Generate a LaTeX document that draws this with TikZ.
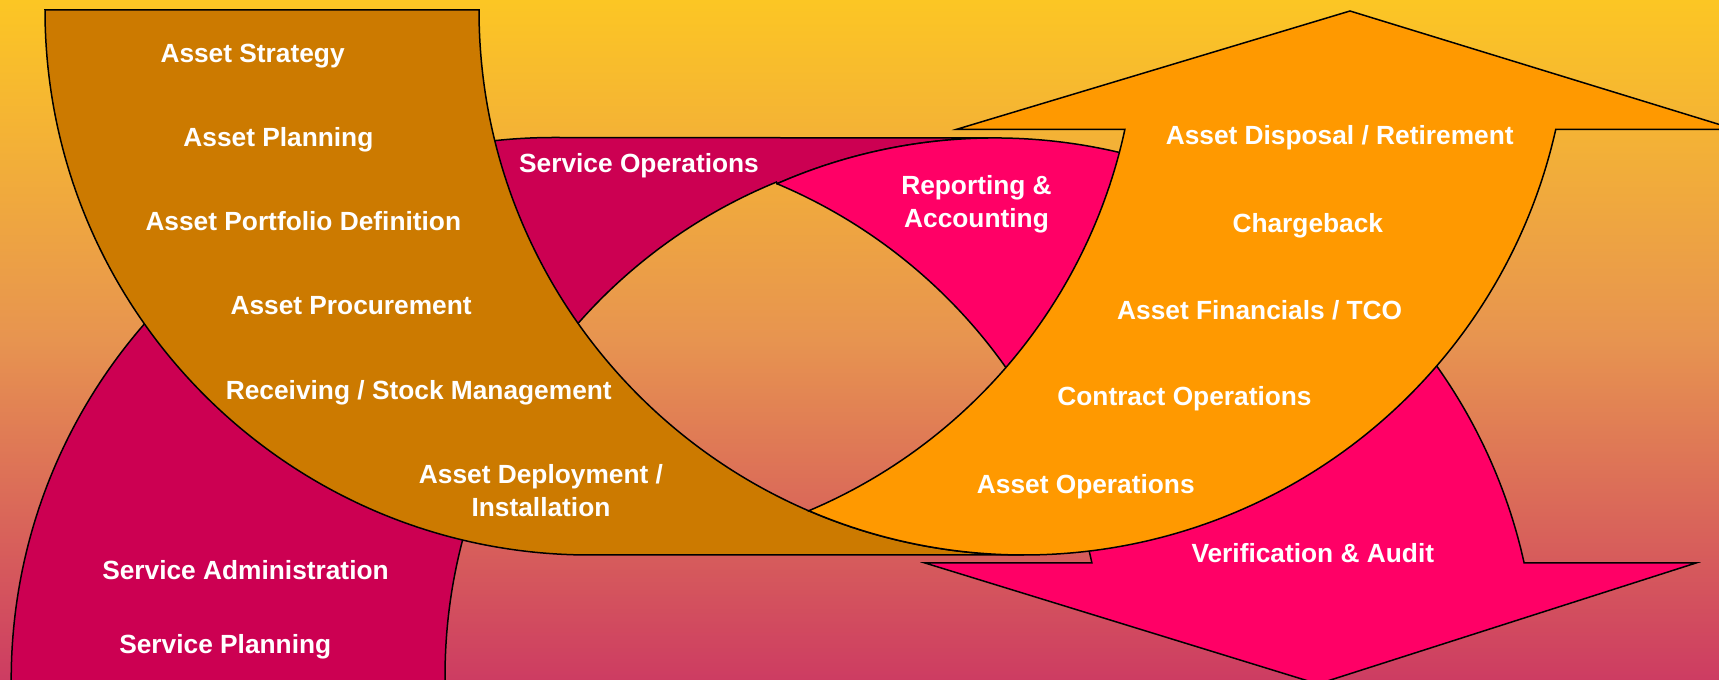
\documentclass[tikz,border=0pt]{standalone}
\usepackage{fontspec}
\setmainfont{Liberation Sans}
\definecolor{bgTop}{RGB}{252,198,36}
\definecolor{bgMid}{RGB}{231,148,80}
\definecolor{bgBot}{RGB}{205,60,98}
\definecolor{brownC}{RGB}{204,122,0}
\definecolor{orangeC}{RGB}{255,153,0}
\definecolor{pinkC}{RGB}{255,0,102}
\definecolor{magentaC}{RGB}{204,0,82}
\begin{document}
\begin{tikzpicture}[x=1pt,y=1pt,
  outlined/.style={draw=black, line width=1.5pt, line join=miter},
  lbl/.style={text=white, font=\fontsize{26.3}{32.5}\selectfont\bfseries, inner sep=0pt, anchor=base}]
\useasboundingbox (0,0) rectangle (1719,680);
\clip (0,0) rectangle (1719,680);
% background
\shade[top color=bgTop, bottom color=bgBot, middle color=bgMid] (0,0) rectangle (1719,680);
% dark magenta band (Service)
\path[outlined, fill=magentaC] (11.2,-20) -- (11.2,0)
  arc[start angle=180, end angle=90, radius=542.5] -- (995,542)
  arc[start angle=90, end angle=113.71, radius=542] -- (776.4,497.9)
  arc[start angle=112.28, end angle=180, radius=533.7] -- (445,-20) -- cycle;
% pink curved down arrow
\path[outlined, fill=pinkC] (777,496.3)
  arc[start angle=113.71, end angle=12.466, radius=542] -- (1696,117) -- (1318,-4) -- (925,117) -- (1091.9,117)
  arc[start angle=12.217, end angle=67.19, radius=534] -- cycle;
% brown band (Asset)
\path[outlined, fill=brownC] (45,670) -- (479,670)
  arc[start angle=180, end angle=270, radius=545] -- (590,125)
  arc[start angle=270, end angle=180, radius=545] -- cycle;
% orange curved up arrow
\path[outlined, fill=orangeC] (808.8,169.3)
  arc[start angle=246.74, end angle=347.355, radius=545] -- (1735,550.7) -- (1350,669) -- (956.7,550.7) -- (1124.9,550.7)
  arc[start angle=347.82, end angle=292.88, radius=537] -- cycle;
% labels
\node[lbl] (tStrategy) at (252.6,617.7) {Asset Strategy};
\node[lbl] (tPlanning) at (278.4,533.3) {Asset Planning};
\node[lbl] (tPortfolio) at (303.3,449.3) {Asset Portfolio Definition};
\node[lbl] (tProcure) at (351.1,365) {Asset Procurement};
\node[lbl] (tReceive) at (418.8,280) {Receiving / Stock Management};
\node[lbl] (tDeploy) at (541,196) {\begin{tabular}[t]{@{}c@{}}Asset Deployment /\\Installation\end{tabular}};
\node[lbl] (tServOps) at (639,507.3) {Service Operations};
\node[lbl] (tReport) at (976.5,485) {\begin{tabular}[t]{@{}c@{}}Reporting \&\\Accounting\end{tabular}};
\node[lbl] (tDisposal) at (1339.7,535) {Asset Disposal / Retirement};
\node[lbl] (tCharge) at (1307.8,447.7) {Chargeback};
\node[lbl] (tFinance) at (1259.7,360.7) {Asset Financials / TCO};
\node[lbl] (tContract) at (1184.5,274) {Contract Operations};
\node[lbl] (tAssetOps) at (1085.8,186.7) {Asset Operations};
\node[lbl] (tVerify) at (1312.8,117) {Verification \& Audit};
\node[lbl] (tServAdmin) at (245.5,100) {Service Administration};
\node[lbl] (tServPlan) at (225.3,26.7) {Service Planning};
\end{tikzpicture}
\end{document}
